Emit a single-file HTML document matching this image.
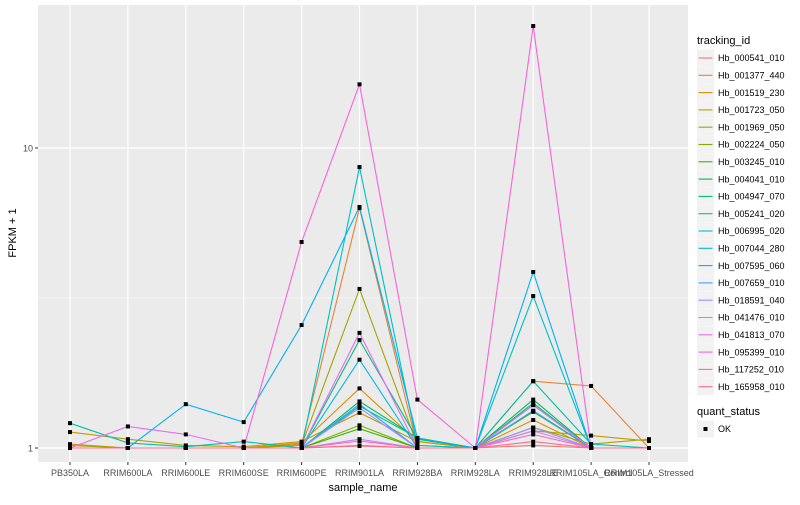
<!DOCTYPE html>
<html><head><meta charset="utf-8"><style>
body{margin:0;background:#fff;font-family:"Liberation Sans",sans-serif}
</style></head><body>
<svg id="chart" width="800" height="500" font-family="Liberation Sans, sans-serif">
<rect x="0" y="0" width="800" height="500" fill="#fff"/>
<rect x="38" y="5" width="650" height="457" fill="#EBEBEB"/>
<g id="grid"></g><g id="lines"></g><g id="pts"></g><g id="axes"></g><g id="legend"></g>
</svg>
<script>
const categories=["PB350LA","RRIM600LA","RRIM600LE","RRIM600SE","RRIM600PE","RRIM901LA","RRIM928BA","RRIM928LA","RRIM928LE","RRIM105LA_Control","RRIM105LA_Stressed"];
const seriesNames=["Hb_000541_010","Hb_001377_440","Hb_001519_230","Hb_001723_050","Hb_001969_050","Hb_002224_050","Hb_003245_010","Hb_004041_010","Hb_004947_070","Hb_005241_020","Hb_006995_020","Hb_007044_280","Hb_007595_060","Hb_007659_010","Hb_018591_040","Hb_041476_010","Hb_041813_070","Hb_095399_010","Hb_117252_010","Hb_165958_010"];
const seriesColors=["#F8766D","#EA8331","#D89000","#C09B00","#A3A500","#7CAE00","#39B600","#00BB4E","#00BF7D","#00C1A3","#00BFC4","#00BAE0","#00B0F6","#35A2FF","#9590FF","#C77CFF","#E76BF3","#FA62DB","#FF62BC","#FF6C91"];
const s0=[1,1,1,1,1,1.02,1,1,1.02,1,1];
const s1=[1,1,1,1,1.03,6.31,1,1,1.67,1.61,1];
const s2=[1.03,1,1,1,1.04,1.58,1.05,1,1.24,1,1];
const s3=[1.13,1.07,1.02,1.01,1.05,1.31,1.05,1,1.14,1.10,1.055];
const s4=[1.02,1,1,1,1.02,3.39,1.02,1,1.17,1.03,1.07];
const s5=[1,1,1,1,1,1.19,1,1,1.33,1,1];
const s6=[1,1,1,1,1,1.16,1,1,1.32,1,1];
const s7=[1,1,1,1,1,1.43,1.08,1,1.45,1,1];
const s8=[1,1,1,1,1,2.29,1.07,1,1.41,1,1];
const s9=[1.21,1.04,1.01,1.05,1,1.38,1.08,1,1.67,1.03,1];
const s10=[1,1,1,1,1,8.64,1.02,1,3.21,1,1];
const s11=[1,1,1,1,1,1.97,1,1,1.39,1,1];
const s12=[1,1,1.40,1.22,2.57,6.36,1.08,1,3.86,1,1];
const s13=[1,1,1,1,1,1.40,1,1,1.33,1,1];
const s14=[1,1,1,1,1,1.36,1,1,1.17,1,1];
const s15=[1,1,1,1,1,1.07,1,1,1.14,1,1];
const s16=[1,1.18,1.11,1,1,2.42,1,1,1.39,1,1];
const s17=[1,1,1,1,4.86,16.3,1.45,1,25.5,1,1];
const s18=[1,1,1,1,1,1.055,1,1,1.11,1,1];
const s19=[1,1,1,1,1,1.015,1,1,1.05,1,1];
const seriesValues=[s0,s1,s2,s3,s4,s5,s6,s7,s8,s9,s10,s11,s12,s13,s14,s15,s16,s17,s18,s19];
const yMajorTicks=[1,10];
const yMinorTicks=[Math.sqrt(10)];
const NS="http://www.w3.org/2000/svg";
function xs(i){return 70+i*57.9;}
function ys(v){return 448-300*Math.log10(v);}
function mk(tag,attrs,parent,text){const e=document.createElementNS(NS,tag);for(const k in attrs)e.setAttribute(k,attrs[k]);if(text!==undefined)e.textContent=text;parent.appendChild(e);return e;}
const grid=document.getElementById('grid'),lines=document.getElementById('lines'),pts=document.getElementById('pts'),axes=document.getElementById('axes'),legend=document.getElementById('legend');
yMinorTicks.forEach(v=>{const l=mk('line',{x1:38,x2:688,y1:ys(v),y2:ys(v),stroke:'#fff','stroke-width':0.6},grid);

});
yMajorTicks.forEach(v=>{const l=mk('line',{x1:38,x2:688,y1:ys(v),y2:ys(v),stroke:'#fff','stroke-width':1.2},grid);


const t=mk('text',{x:33,y:ys(v)+3.5,'text-anchor':'end','font-size':9,fill:'#4D4D4D'},axes,String(v));


mk('line',{x1:35,x2:38,y1:ys(v),y2:ys(v),stroke:'#333','stroke-width':1},axes);});
categories.forEach((c,i)=>{const l=mk('line',{x1:xs(i),x2:xs(i),y1:5,y2:462,stroke:'#fff','stroke-width':1.2},grid);


mk('line',{x1:xs(i),x2:xs(i),y1:462,y2:465,stroke:'#333','stroke-width':1},axes);
const t=mk('text',{x:xs(i),y:476,'text-anchor':'middle','font-size':9,fill:'#4D4D4D'},axes,c);

});
seriesValues.forEach((vals,s)=>{const d=vals.map((v,i)=>(i?'L':'M')+xs(i).toFixed(1)+','+ys(v).toFixed(1)).join(' ');
const p=mk('path',{d:d,fill:'none',stroke:seriesColors[s],'stroke-width':1.1},lines);


vals.forEach((v,i)=>{const r=mk('rect',{x:xs(i)-2,y:ys(v)-2,width:4,height:4,fill:'#000'},pts);

});});
let t=mk('text',{x:363,y:491,'text-anchor':'middle','font-size':11,fill:'#000'},axes,'sample_name');


t=mk('text',{x:16,y:233,'text-anchor':'middle','font-size':11,fill:'#000',transform:'rotate(-90 16 233)'},axes,'FPKM + 1');


t=mk('text',{x:697,y:44,'font-size':11,fill:'#000'},legend,'tracking_id');


seriesNames.forEach((n,s)=>{const y=58+s*17.3;
const g=mk('g',{},legend);


mk('rect',{x:697,y:y-8.5,width:17,height:17,fill:'#F2F2F2'},g);
mk('line',{x1:698.5,x2:712.5,y1:y,y2:y,stroke:seriesColors[s],'stroke-width':1.1},g);
mk('text',{x:718,y:y+3.2,'font-size':9,fill:'#000'},g,n);});
t=mk('text',{x:697,y:415,'font-size':11,fill:'#000'},legend,'quant_status');


const g2=mk('g',{},legend);


mk('rect',{x:697,y:420.5,width:17,height:17,fill:'#F2F2F2'},g2);
mk('rect',{x:703.5,y:427,width:4,height:4,fill:'#000'},g2);
mk('text',{x:718,y:432,'font-size':9,fill:'#000'},g2,'OK');
</script>
</body></html>
